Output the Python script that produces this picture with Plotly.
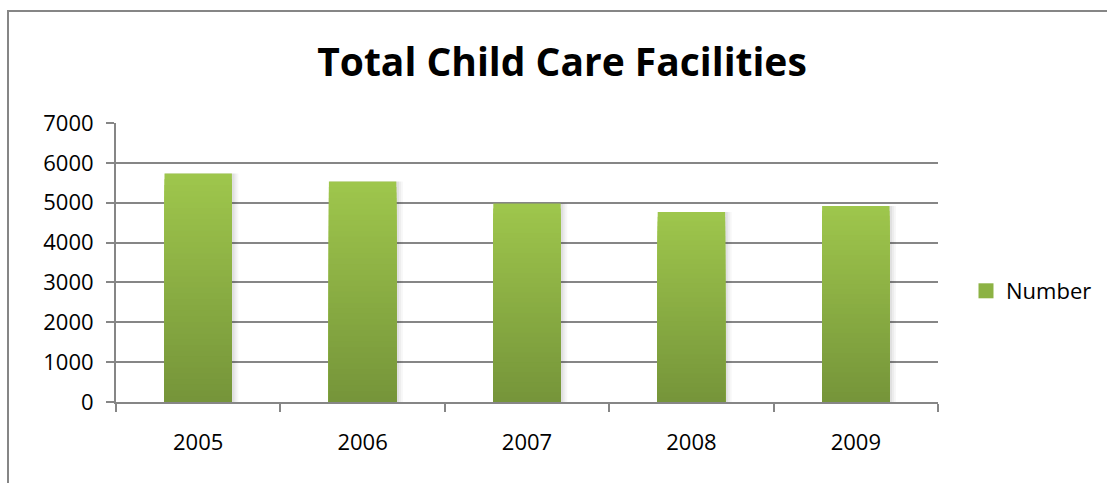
import plotly.graph_objects as go

years = ["2005", "2006", "2007", "2008", "2009"]
number = [5730, 5530, 4980, 4770, 4920]

W, H = 1107, 483
L, R, T, B = 116, 938, 123, 402

top_rgb = (158, 198, 76)
bot_rgb = (118, 149, 58)
N = 40

fig = go.Figure()

# soft shadow
for k, a in enumerate([0.05, 0.04, 0.03]):
    fig.add_trace(go.Bar(x=years, y=number, width=0.41 + 0.012 * (k + 1), offset=-0.205 + 0.004,
                         marker=dict(color="rgba(0,0,0,%.2f)" % a, line=dict(width=0)),
                         showlegend=False, hoverinfo="skip"))

for i in range(N):
    f = i / (N - 1)
    c = tuple(round(top_rgb[k] + (bot_rgb[k] - top_rgb[k]) * f) for k in range(3))
    frac = 1 - i / N
    fig.add_trace(go.Bar(
        x=years, y=[v * frac for v in number], width=0.41,
        name="Number", showlegend=False,
        marker=dict(color="rgb(%d,%d,%d)" % c, line=dict(width=0)),
    ))

# legend entry
fig.add_trace(go.Scatter(x=[None], y=[None], name="Number", mode="markers", showlegend=True,
                         marker=dict(symbol="square", size=15, color="rgb(140,178,68)",
                                     line=dict(width=0))))

pw, ph = R - L, B - T
fig.add_shape(type="rect", xref="paper", yref="paper",
              x0=(8 - L) / pw, x1=(W + 20 - L) / pw,
              y0=(B - (H + 20)) / ph, y1=(B - 11) / ph,
              line=dict(color="#868686", width=2), fillcolor="rgba(0,0,0,0)", layer="below")

font = "Open Sans"
fig.update_layout(
    width=W, height=H,
    margin=dict(l=L, r=W - R, t=T, b=H - B, autoexpand=False),
    barmode="overlay",
    paper_bgcolor="white", plot_bgcolor="white",
    title=dict(text="<b>Total Child Care Facilities</b>", x=562 / W, xanchor="center",
               y=1 - 62 / H, yanchor="middle",
               font=dict(family=font, size=39, color="black")),
    font=dict(family=font, size=22, color="black"),
    legend=dict(x=(966 - L) / pw, y=(B - 291) / ph, xanchor="left", yanchor="middle",
                font=dict(family=font, size=22), bgcolor="rgba(0,0,0,0)",
                itemwidth=30),
    showlegend=True,
)
fig.update_xaxes(type="category", showline=True, linecolor="#868686", linewidth=2,
                 ticks="outside", tickson="boundaries", ticklen=8, tickcolor="#868686",
                 tickwidth=2, showgrid=False, tickfont=dict(size=22), ticklabelstandoff=20,
                 range=[-0.5, 4.5])
fig.update_yaxes(range=[0, 7000], dtick=1000, showline=True, linecolor="#868686", linewidth=2,
                 ticks="outside", ticklen=8, tickcolor="#868686", tickwidth=2,
                 showgrid=True, gridcolor="#868686", gridwidth=2, zeroline=False,
                 tickfont=dict(size=22), ticklabelstandoff=8)

fig.write_html("out.html")
